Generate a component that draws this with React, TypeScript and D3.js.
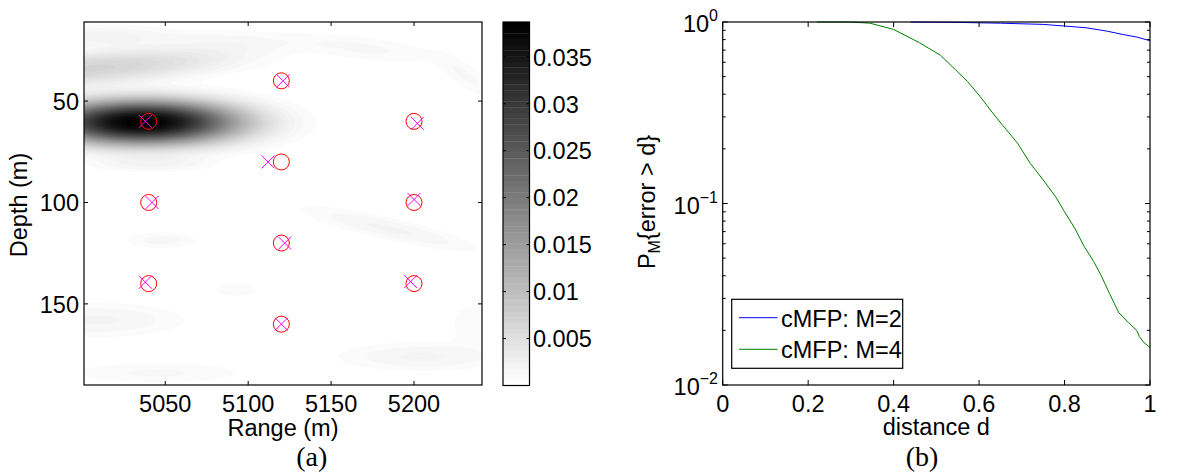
import React, { useMemo } from 'react';
import * as d3 from 'd3';

// ---------- panel (a): ambiguity surface ----------
const rangeDomain = [5001, 5241];
const depthDomain = [11, 190];
const rangeTicks = [5050, 5100, 5150, 5200];
const depthTicks = [50, 100, 150];
const colorbarDomain = [0, 0.0387];
const colorbarTicks = [0.005, 0.01, 0.015, 0.02, 0.025, 0.03, 0.035];
const colorbarTickLabels = ['0.005', '0.01', '0.015', '0.02', '0.025', '0.03', '0.035'];
const colorLevels = 64;

// surface lobes:
// [range, depth, spreadRange, spreadDepth, depthSlope, shapeExp, amplitude]
const surfaceLobes: number[][] = [
  [5036, 60.5, 42, 7.8, 0, 1.15, 0.0387],
  [5003, 34, 62, 5.8, -0.06, 1.2, 0.0068],
  [5012, 18, 32, 4, 0, 1.2, 0.002],
  [5042, 81, 26, 3, 0, 1.2, 0.0018],
  [5090, 20, 30, 4, 0.02, 1.2, 0.0012],
  [5170, 24, 32, 4.5, 0.1, 1.2, 0.0013],
  [5232, 38, 14, 5, 0.45, 1.2, 0.0013],
  [5048, 118.6, 16, 3, 0, 1.2, 0.0015],
  [5093, 143, 11, 2.5, 0, 1.2, 0.0012],
  [5008, 158, 38, 6, 0, 1.2, 0.0019],
  [5045, 184, 40, 4, 0, 1.2, 0.0013],
  [5185, 113, 38, 4, 0.18, 1.2, 0.0019],
  [5205, 176, 36, 5, 0, 1.2, 0.0019],
  [5235, 160, 10, 8, 0, 1.2, 0.0011],
];

const trueRange = [5040, 5120, 5120, 5040, 5120, 5040, 5120, 5200, 5200, 5200];
const trueDepth = [60, 40, 80, 100, 120, 140, 160, 60, 100, 140];
const estRange = [5038, 5121, 5112, 5042, 5122, 5038, 5120, 5202, 5200, 5198];
const estDepth = [60, 40, 80, 100, 120, 139.3, 160, 61, 98.5, 139];

// ---------- panel (b): error probability ----------
const distTicks = [0, 0.2, 0.4, 0.6, 0.8, 1];
const distTickLabels = ['0', '0.2', '0.4', '0.6', '0.8', '1'];
const probDomain = [0.01, 1];
const probMajor = [1, 0.1, 0.01];
const probMajorExp = ['0', '\u22121', '\u22122'];

const m2Dist = [0.44, 0.55, 0.65, 0.75, 0.8, 0.85, 0.9, 0.935, 0.97, 1.0];
const m2Prob = [1, 0.995, 0.985, 0.97, 0.95, 0.93, 0.89, 0.855, 0.825, 0.789];

const m4Dist = [0.22, 0.27, 0.3, 0.345, 0.4, 0.46, 0.51, 0.545, 0.573, 0.602, 0.632, 0.654, 0.69, 0.72, 0.75, 0.78, 0.8, 0.824, 0.846, 0.868, 0.886, 0.905, 0.927, 0.95, 0.969, 0.975, 0.985, 1.0];
const m4Prob = [1, 1, 0.999, 0.985, 0.91, 0.77, 0.655, 0.545, 0.47, 0.39, 0.315, 0.272, 0.215, 0.166, 0.135, 0.108, 0.09, 0.073, 0.058, 0.048, 0.04, 0.032, 0.025, 0.022, 0.02, 0.0185, 0.0172, 0.0161];

const seriesNames = ['cMFP: M=2', 'cMFP: M=4'];
const seriesColors = ['#0000ff', '#008000'];

const FONT = '"Liberation Sans", Arial, Helvetica, sans-serif';
const FS = 23.5;

export default function App() {
  const W = 1194, H = 474;
  const A = { l: 84, r: 482, t: 22, b: 385 };
  const CB = { l: 503, r: 529.5, t: 22, b: 385.5 };
  const B = { l: 722.7, r: 1150, t: 22, b: 385 };

  const xA = d3.scaleLinear(rangeDomain, [A.l, A.r]);
  const yA = d3.scaleLinear(depthDomain, [A.t, A.b]);
  const yCB = d3.scaleLinear(colorbarDomain, [CB.b, CB.t]);
  const xB = d3.scaleLinear([0, 1], [B.l, B.r]);
  const yB = d3.scaleLog(probDomain, [B.b, B.t]);

  const gray = d3.scaleLinear([0, colorLevels - 1], ['#ffffff', '#000000']);
  const levelOf = d3.scaleLinear(colorbarDomain, [0, colorLevels]);

  const contours = useMemo(() => {
    const n = 241, m = 180;
    const gr = d3.scaleLinear([0, n], rangeDomain);
    const gd = d3.scaleLinear([0, m], depthDomain);
    const vals = new Float64Array(n * m);
    for (let j = 0; j < m; j++) {
      const dep = gd(j + 0.5);
      for (let i = 0; i < n; i++) {
        const rng = gr(i + 0.5);
        let v = 0;
        for (const [r0, d0, sr, sd, slope, k, amp] of surfaceLobes) {
          const dx = rng - r0;
          const dy = dep - d0 - slope * dx;
          const q = (dx / sr) ** 2 + (dy / sd) ** 2;
          v += amp * Math.exp(-0.5 * Math.pow(q, k));
        }
        vals[j * n + i] = v;
      }
    }
    const thresholds = d3.range(1, colorLevels).map((k) => levelOf.invert(k));
    const cs = d3.contours().size([n, m]).thresholds(thresholds)(Array.from(vals));
    const proj = d3.geoTransform({
      point(x: number, y: number) {
        (this as any).stream.point(xA(gr(x)), yA(gd(y)));
      },
    });
    const path = d3.geoPath(proj);
    return cs.map((c, idx) => ({ d: path(c as any) || '', fill: gray(idx + 1) }));
  }, []);

  const line = d3.line<number>();
  const m2Path = line(m2Dist.map((d, i) => [xB(d), yB(m2Prob[i])]) as any);
  const m4Path = line(m4Dist.map((d, i) => [xB(d), yB(m4Prob[i])]) as any);

  const minorTicks = yB.ticks().filter((v) => !probMajor.some((p) => Math.abs(p - v) < 1e-9));

  const tk = 4;
  const txt = { fontFamily: FONT, fontSize: FS, fill: '#000' } as const;

  return (
    <svg width={W} height={H} style={{ position: 'absolute', left: 0, top: 0, background: '#fff' }}>
      <defs>
        <clipPath id="clipA">
          <rect x={A.l} y={A.t} width={A.r - A.l} height={A.b - A.t} />
        </clipPath>
      </defs>
      <rect x={0} y={0} width={W} height={H} fill="#fff" />

      {/* ---------- panel (a) ---------- */}
      <g clipPath="url(#clipA)">
        <rect x={A.l} y={A.t} width={A.r - A.l} height={A.b - A.t} fill="#fff" />
        {contours.map((c, i) => (
          <path key={i} d={c.d} fill={c.fill} stroke="none" />
        ))}
      </g>
      <rect x={A.l} y={A.t} width={A.r - A.l} height={A.b - A.t} fill="none" stroke="#000" strokeWidth={1.2} />
      {rangeTicks.map((t) => (
        <g key={'rt' + t}>
          <line x1={xA(t)} x2={xA(t)} y1={A.b} y2={A.b - tk} stroke="#000" />
          <line x1={xA(t)} x2={xA(t)} y1={A.t} y2={A.t + tk} stroke="#000" />
          <text x={xA(t)} y={412} textAnchor="middle" {...txt}>{t}</text>
        </g>
      ))}
      {depthTicks.map((t) => (
        <g key={'dt' + t}>
          <line x1={A.l} x2={A.l + tk} y1={yA(t)} y2={yA(t)} stroke="#000" />
          <line x1={A.r} x2={A.r - tk} y1={yA(t)} y2={yA(t)} stroke="#000" />
          <text x={79} y={yA(t) + 8.8} textAnchor="end" {...txt}>{t}</text>
        </g>
      ))}
      <text x={(A.l + A.r) / 2} y={436} textAnchor="middle" {...txt}>Range (m)</text>
      <text transform={`translate(27,205) rotate(-90)`} textAnchor="middle" {...txt}>Depth (m)</text>

      {/* markers */}
      {trueRange.map((r, i) => (
        <circle key={'c' + i} cx={xA(r)} cy={yA(trueDepth[i])} r={8} fill="none" stroke="#ff0000" strokeWidth={1} />
      ))}
      {estRange.map((r, i) => {
        const cx = xA(r), cy = yA(estDepth[i]), s = 6.5;
        return (
          <path key={'x' + i} d={`M${cx - s},${cy - s}L${cx + s},${cy + s}M${cx - s},${cy + s}L${cx + s},${cy - s}`} stroke="#ff00ff" strokeWidth={1} fill="none" />
        );
      })}

      {/* colorbar */}
      {d3.range(colorLevels).map((k) => {
        const y0 = yCB(levelOf.invert(k));
        const y1 = yCB(levelOf.invert(k + 1));
        return <rect key={'cb' + k} x={CB.l} y={y1} width={CB.r - CB.l} height={y0 - y1 + 0.3} fill={gray(k)} />;
      })}
      <rect x={CB.l} y={CB.t} width={CB.r - CB.l} height={CB.b - CB.t} fill="none" stroke="#000" strokeWidth={1.2} />
      {colorbarTicks.map((t, i) => (
        <g key={'cbt' + t}>
          <line x1={CB.l} x2={CB.l + 3} y1={yCB(t)} y2={yCB(t)} stroke="#000" />
          <line x1={CB.r} x2={CB.r - 3} y1={yCB(t)} y2={yCB(t)} stroke="#000" />
          <text x={533} y={yCB(t) + 8.8} textAnchor="start" {...txt}>{colorbarTickLabels[i]}</text>
        </g>
      ))}

      {/* ---------- panel (b) ---------- */}
      <path d={m2Path || ''} fill="none" stroke={seriesColors[0]} strokeWidth={1} />
      <path d={m4Path || ''} fill="none" stroke={seriesColors[1]} strokeWidth={1} />
      <rect x={B.l} y={B.t} width={B.r - B.l} height={B.b - B.t} fill="none" stroke="#000" strokeWidth={1.2} />
      {distTicks.map((t, i) => (
        <g key={'xt' + t}>
          <line x1={xB(t)} x2={xB(t)} y1={B.b} y2={B.b - 5} stroke="#000" />
          <line x1={xB(t)} x2={xB(t)} y1={B.t} y2={B.t + 5} stroke="#000" />
          <text x={xB(t)} y={412} textAnchor="middle" {...txt}>{distTickLabels[i]}</text>
        </g>
      ))}
      {probMajor.map((t, i) => (
        <g key={'yt' + t}>
          <line x1={B.l} x2={B.l + 5} y1={yB(t)} y2={yB(t)} stroke="#000" />
          <line x1={B.r} x2={B.r - 5} y1={yB(t)} y2={yB(t)} stroke="#000" />
          <text x={718} y={yB(t) + 10} textAnchor="end" {...txt}>
            10<tspan dy={-11} fontSize={16}>{probMajorExp[i]}</tspan>
          </text>
        </g>
      ))}
      {minorTicks.map((t) => (
        <g key={'ym' + t}>
          <line x1={B.l} x2={B.l + 3} y1={yB(t)} y2={yB(t)} stroke="#000" />
          <line x1={B.r} x2={B.r - 3} y1={yB(t)} y2={yB(t)} stroke="#000" />
        </g>
      ))}
      <text x={(B.l + B.r) / 2} y={435} textAnchor="middle" {...txt}>distance d</text>
      <text transform={`translate(655,202) rotate(-90)`} textAnchor="middle" {...txt}>
        P<tspan dy={5} fontSize={16}>M</tspan><tspan dy={-5}>{'{error > d}'}</tspan>
      </text>

      {/* legend */}
      <rect x={731.7} y={299.3} width={171} height={69} fill="#fff" stroke="#000" strokeWidth={1.2} />
      {seriesNames.map((name, i) => {
        const ly = 317.7 + i * 31.6;
        return (
          <g key={'lg' + i}>
            <line x1={739} x2={777.5} y1={ly} y2={ly} stroke={seriesColors[i]} strokeWidth={1} />
            <text x={781} y={ly + 8.8} {...txt}>{name}</text>
          </g>
        );
      })}

      {/* captions */}
      <text x={311.7} y={466} textAnchor="middle" fontFamily='"Liberation Serif", "Times New Roman", serif' fontSize={28}>(a)</text>
      <text x={922} y={466} textAnchor="middle" fontFamily='"Liberation Serif", "Times New Roman", serif' fontSize={28}>(b)</text>
    </svg>
  );
}
